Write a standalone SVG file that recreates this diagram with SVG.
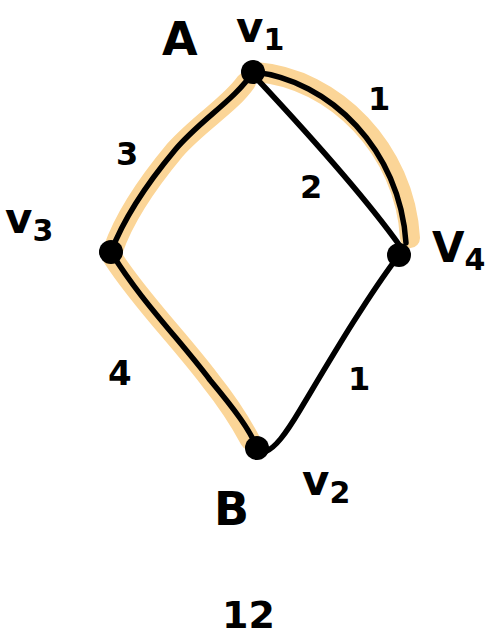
<svg xmlns="http://www.w3.org/2000/svg" width="495" height="637" viewBox="0 0 495 637">
<style>
.hl{fill:none;stroke:#FBD597;stroke-width:20;stroke-linecap:round;stroke-linejoin:round}
.e{fill:none;stroke:#000;stroke-width:5.5;stroke-linecap:round}
.n{fill:#000}
.t{font-family:"DejaVu Sans",sans-serif;fill:#000;font-weight:bold}
</style>
<rect width="495" height="637" fill="#fff"/>
<g id="highlights">
<path class="hl" d="M246,82 C230,105 200,122 175,150 C150,180 125,215 113,250"/>
<path class="hl" d="M256,72 C335,78 405,150 410,238"/>
<path class="hl" d="M113,258 C140,300 180,340 210,380 C230,405 242,425 250,440"/>
</g>
<g id="connectors">
<path class="e" d="M253,72 C235,100 200,120 175,150 C150,180 125,215 111,252"/>
<path class="e" d="M253,72 C330,80 400,150 406,243"/>
<path class="e" d="M258,80 C300,125 360,190 400,246"/>
<path class="e" d="M111,252 C140,300 180,340 210,380 C235,410 250,430 257,448"/>
<path class="e" d="M399,255 C365,300 330,360 300,410 C285,435 275,448 265,452"/>
</g>
<g id="v1"><circle class="n" cx="253" cy="72" r="12"/><text class="t" x="236" y="42" font-size="42">v<tspan font-size="30" dy="8">1</tspan></text><text class="t" x="162" y="55" font-size="46">A</text></g>
<g id="v3"><circle class="n" cx="111" cy="252" r="12"/><text class="t" x="5" y="233" font-size="42">v<tspan font-size="30" dy="8">3</tspan></text></g>
<g id="v4"><circle class="n" cx="399" cy="255" r="12"/><text class="t" x="432" y="262" font-size="42">V<tspan font-size="30" dy="8">4</tspan></text></g>
<g id="v2"><circle class="n" cx="257" cy="448" r="12"/><text class="t" x="302" y="495" font-size="42">v<tspan font-size="30" dy="8">2</tspan></text><text class="t" x="214" y="525" font-size="46">B</text></g>
<g id="labels">
<text class="t" x="368" y="110" font-size="32">1</text>
<text class="t" x="300" y="198" font-size="32">2</text>
<text class="t" x="116" y="165" font-size="32">3</text>
<text class="t" x="108" y="385" font-size="34">4</text>
<text class="t" x="348" y="390" font-size="32">1</text>
<text class="t" x="222" y="628" font-size="38">12</text>
</g>
</svg>
